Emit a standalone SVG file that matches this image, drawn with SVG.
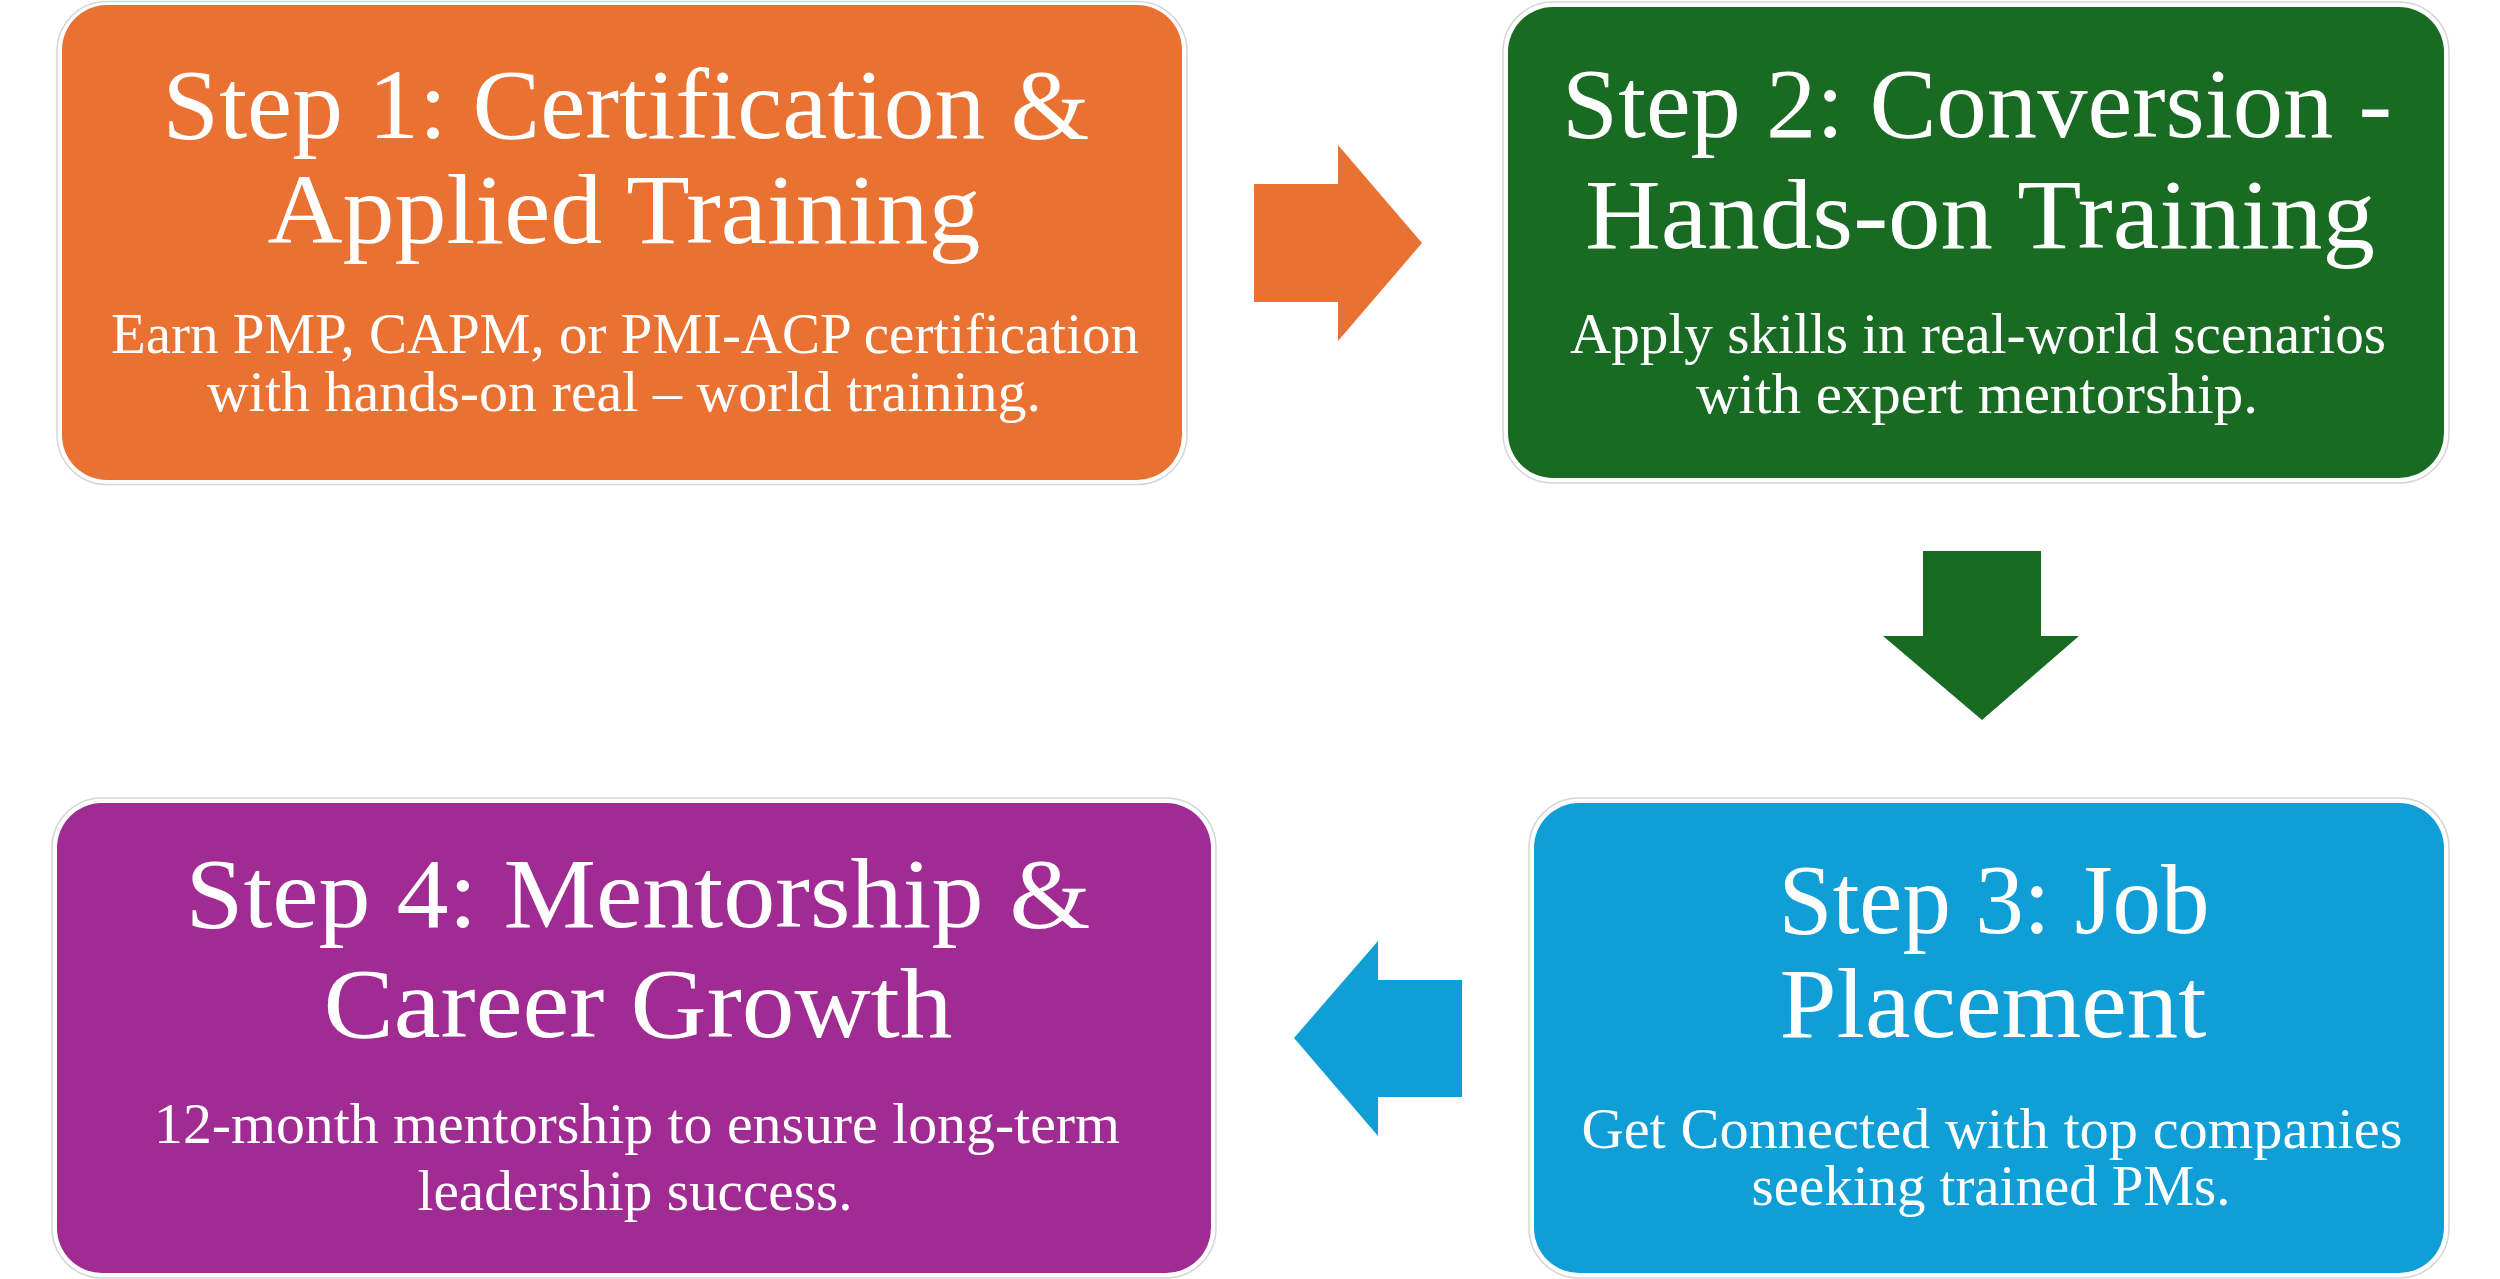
<svg xmlns="http://www.w3.org/2000/svg" width="2500" height="1279" viewBox="0 0 2500 1279">
<style>
.frame{fill:#ffffff;stroke:#d6d6d6;stroke-width:1.5}
.t{font-family:"Liberation Serif","Times New Roman",serif;fill:#ffffff;text-anchor:middle;font-size:100px}
.s{font-family:"Liberation Serif","Times New Roman",serif;fill:#ffffff;text-anchor:middle;font-size:56px}
</style>
<rect width="2500" height="1279" fill="#ffffff"/>
<g id="connectors">
<polygon points="1254,184 1338,184 1338,145 1422,243 1338,341 1338,302 1254,302" fill="#E97132"/>
<polygon points="1923,551 2041,551 2041,636 2079,636 1982,720 1883,636 1923,636" fill="#196B24"/>
<polygon points="1462,980 1378,980 1378,941 1294,1038 1378,1136 1378,1097 1462,1097" fill="#0F9ED5"/>
</g>
<g id="step1">
<rect class="frame" x="57" y="1.5" width="1130" height="483" rx="50"/>
<rect x="62" y="5" width="1120" height="475" rx="45" fill="#E97132"/>
<text class="t" x="626" y="138" textLength="927" lengthAdjust="spacingAndGlyphs">Step 1: Certification &amp;</text>
<text class="t" x="624" y="243" textLength="713" lengthAdjust="spacingAndGlyphs">Applied Training</text>
<text class="s" x="625" y="353" textLength="1028" lengthAdjust="spacingAndGlyphs">Earn PMP, CAPM, or PMI-ACP certification</text>
<text class="s" x="624" y="411" textLength="834" lengthAdjust="spacingAndGlyphs">with hands-on real – world training.</text>
</g>
<g id="step2">
<rect class="frame" x="1503" y="2" width="946" height="481" rx="50"/>
<rect x="1508" y="7" width="936" height="471" rx="45" fill="#196B24"/>
<text class="t" x="1977" y="137" textLength="830" lengthAdjust="spacingAndGlyphs">Step 2: Conversion -</text>
<text class="t" x="1980" y="248" textLength="790" lengthAdjust="spacingAndGlyphs">Hands-on Training</text>
<text class="s" x="1978" y="353" textLength="816" lengthAdjust="spacingAndGlyphs">Apply skills in real-world scenarios</text>
<text class="s" x="1977" y="413" textLength="562" lengthAdjust="spacingAndGlyphs">with expert mentorship.</text>
</g>
<g id="step3">
<rect class="frame" x="1529" y="798" width="920" height="480" rx="50"/>
<rect x="1534" y="803" width="910" height="470" rx="45" fill="#0F9ED5"/>
<text class="t" x="1994" y="933" textLength="431" lengthAdjust="spacingAndGlyphs">Step 3: Job</text>
<text class="t" x="1993" y="1037" textLength="427" lengthAdjust="spacingAndGlyphs">Placement</text>
<text class="s" x="1992" y="1148" textLength="821" lengthAdjust="spacingAndGlyphs">Get Connected with top companies</text>
<text class="s" x="1991" y="1205" textLength="479" lengthAdjust="spacingAndGlyphs">seeking trained PMs.</text>
</g>
<g id="step4">
<rect class="frame" x="52" y="798" width="1164" height="480" rx="50"/>
<rect x="57" y="803" width="1154" height="470" rx="45" fill="#A02B93"/>
<text class="t" x="638" y="927" textLength="905" lengthAdjust="spacingAndGlyphs">Step 4: Mentorship &amp;</text>
<text class="t" x="638" y="1037" textLength="629" lengthAdjust="spacingAndGlyphs">Career Growth</text>
<text class="s" x="637" y="1143" textLength="966" lengthAdjust="spacingAndGlyphs">12-month mentorship to ensure long-term</text>
<text class="s" x="635" y="1210" textLength="435" lengthAdjust="spacingAndGlyphs">leadership success.</text>
</g>
</svg>
